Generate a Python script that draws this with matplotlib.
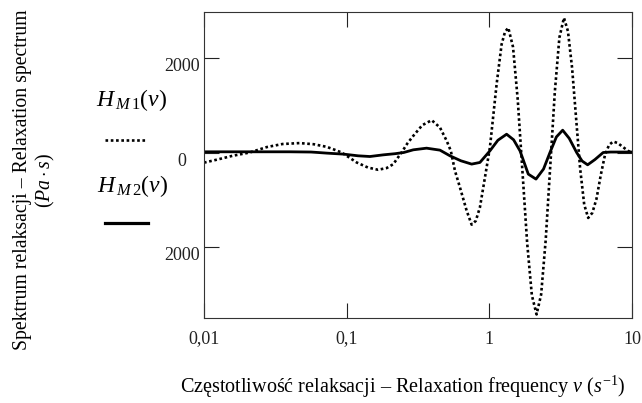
import numpy as np
import matplotlib.pyplot as plt
from matplotlib.lines import Line2D

plt.rcParams["font.family"] = ["Liberation Serif", "DejaVu Serif"]
plt.rcParams["mathtext.fontset"] = "custom"
plt.rcParams["mathtext.rm"] = "Liberation Serif"
plt.rcParams["mathtext.it"] = "Liberation Serif:italic"

# values (log10 of frequency, spectrum in Pa*s)
log_nu_m1 = [-2.00, -1.90, -1.80, -1.68, -1.56, -1.45, -1.33, -1.23, -1.14, -1.09,
             -1.035, -0.98, -0.93, -0.85, -0.78, -0.72, -0.673, -0.645, -0.615, -0.575,
             -0.533, -0.47, -0.404, -0.346, -0.299, -0.27, -0.241, -0.206, -0.159, -0.124,
             -0.095, -0.066, -0.019, 0.004, 0.051, 0.086, 0.110, 0.133, 0.166, 0.199,
             0.232, 0.265, 0.298, 0.331, 0.363, 0.395, 0.427, 0.459, 0.491, 0.523,
             0.551, 0.580, 0.608, 0.636, 0.665, 0.693, 0.722, 0.751, 0.781, 0.810,
             0.839, 0.868, 0.90, 0.935, 0.97, 1.00]
h_m1 = [-215, -145, -70, 0, 115, 180, 200, 175, 120, 65,
        0, -110, -211, -320, -366, -330, -247, -125, 0, 190,
        353, 580, 685, 530, 248, 35, -387, -740, -1234, -1530,
        -1450, -1163, -317, 106, 1447, 2294, 2560, 2645, 2238, 1125,
        -395, -1914, -3027, -3434, -3013, -1861, -289, 1284, 2436, 2857,
        2573, 1796, 734, -327, -1104, -1388, -1279, -983, -480, -60,
        160, 233, 200, 120, 40, -10]

log_nu_m2 = [-2.00, -1.80, -1.60, -1.40, -1.25, -1.20, -1.14, -1.02, -0.92, -0.837,
             -0.744, -0.66, -0.60, -0.533, -0.44, -0.346, -0.276, -0.20, -0.124, -0.066,
             0.004, 0.06, 0.121, 0.17, 0.215, 0.273, 0.327, 0.38, 0.425, 0.47,
             0.514, 0.56, 0.612, 0.65, 0.689, 0.74, 0.798, 0.85, 1.00]
h_m2 = [15, 15, 15, 15, 10, 0, -13, -35, -70, -85,
        -50, -25, 0, 57, 92, 50, -70, -175, -246, -211,
        35, 260, 388, 270, 35, -458, -564, -350, 0, 330,
        473, 300, 0, -180, -261, -150, 0, 10, 10]

xticks = [0.01, 0.1, 1, 10]
xtick_labels = ["0,01", "0,1", "1", "10"]
yticks = [-2000, 0, 2000]
ytick_labels = ["2000", "0", "2000"]

nu_m1 = 10.0 ** np.array(log_nu_m1)
nu_m2 = 10.0 ** np.array(log_nu_m2)

W, H = 642, 403
fig = plt.figure(figsize=(W / 100, H / 100), dpi=100)
ax = fig.add_axes([204 / W, 1 - 318 / H, 428 / W, 306 / H])

dot_style = dict(color="black", lw=1.9, linestyle=(0, (1, 1)), dash_capstyle="butt")
ax.plot(nu_m1, h_m1, **dot_style)
ax.plot(nu_m2, h_m2, color="black", lw=2.0)

ax.set_xscale("log")
ax.set_xlim(0.01, 10)
ax.set_ylim(-3510, 2980)
ax.set_xticks(xticks, xtick_labels)
ax.set_yticks(yticks, ytick_labels)
ax.minorticks_off()
ax.tick_params(direction="in", length=10.5, width=0.8, top=True, right=True,
               labelsize=13, colors="#222222")
ax.tick_params(axis="x", pad=9)
ax.tick_params(axis="y", pad=16)
for lb in ax.get_yticklabels():
    lb.set_horizontalalignment("center")
    lb.set_verticalalignment("top")
for s in ax.spines.values():
    s.set_linewidth(0.8)
    s.set_color("#333333")

fig.text(403 / W, 1 - 393 / H,
         "Częstotliwość relaksacji – Relaxation frequency $v$ ($s^{\\mathrm{-1}}$)",
         ha="center", va="baseline", fontsize=14.5)
fig.text(35 / W, 1 - 180 / H,
         "Spektrum relaksacji – Relaxation spectrum\n($Pa\\cdot s$)",
         ha="center", va="center", rotation=90, fontsize=14.2,
         multialignment="center", linespacing=1.15)

# legend drawn by hand, as in the original
fig.text(96 / W, 1 - 106 / H, r"$H_{\,M\,1}(\nu)$", ha="left", va="baseline", fontsize=17)
fig.text(97 / W, 1 - 192 / H, r"$H_{\,M\,2}(\nu)$", ha="left", va="baseline", fontsize=17)
fig.add_artist(Line2D([105 / W, 147 / W], [1 - 140 / H] * 2, **dot_style))
fig.add_artist(Line2D([105 / W, 148 / W], [1 - 223 / H] * 2, color="black", lw=2.3))

fig.savefig("out.png", dpi=100)
